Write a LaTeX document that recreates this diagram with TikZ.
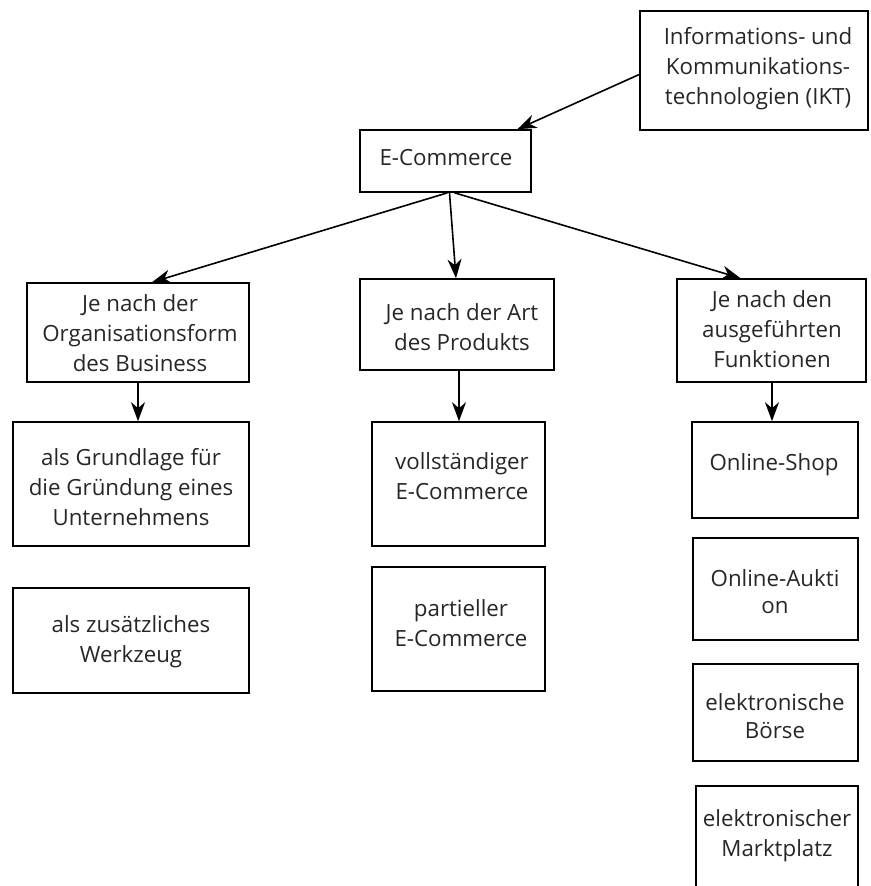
\documentclass[tikz,border=0pt]{standalone}
\usepackage{fontspec}
\setmainfont{Open Sans}
\usetikzlibrary{arrows.meta}
\tikzset{
  bx/.style={draw=black, line width=1.6pt, rectangle, inner sep=0pt},
  txt/.style={align=center, inner sep=0pt, text=black!85, font=\fontsize{22.3}{30}\selectfont},
  arr/.style={line width=1.6pt, -{Stealth[length=19pt,width=14pt,inset=6pt]}}
}
\begin{document}
\begin{tikzpicture}[x=1pt,y=-1pt]
\useasboundingbox (0,0) rectangle (870,886);
\clip (0,0) rectangle (870,886);
% boxes
\node[bx, minimum width=228pt, minimum height=119pt] (ikt) at (754,70.5) {};
\node[bx, minimum width=171pt, minimum height=62pt] (ec) at (445.5,161) {};
\node[bx, minimum width=222pt, minimum height=99pt] (b3) at (138,332.5) {};
\node[bx, minimum width=194pt, minimum height=91pt] (b4) at (457,324.5) {};
\node[bx, minimum width=189pt, minimum height=103pt] (b5) at (771.5,330.5) {};
\node[bx, minimum width=236pt, minimum height=124pt] (b6) at (131,484) {};
\node[bx, minimum width=236pt, minimum height=105pt] (b7) at (131,640.5) {};
\node[bx, minimum width=173pt, minimum height=124pt] (b8) at (458.5,484) {};
\node[bx, minimum width=173pt, minimum height=124pt] (b9) at (458.5,629) {};
\node[bx, minimum width=166pt, minimum height=96pt] (b10) at (775,470) {};
\node[bx, minimum width=165pt, minimum height=102pt] (b11) at (775.5,589) {};
\node[bx, minimum width=165pt, minimum height=97pt] (b12) at (775.5,712.5) {};
\node[bx, minimum width=162pt, minimum height=114pt] (b13) at (777,843) {};
% texts
\node[txt] (t1) at (758,69) {Informations- und\\Kommunikations-\\technologien (IKT)};
\node[txt] (t2) at (446,158) {E-Commerce};
\node[txt] (t3) at (140,333) {Je nach der\\Organisationsform\\des Business};
\node[txt] (t4) at (462,327) {Je nach der Art\\des Produkts};
\node[txt] (t5) at (772,329) {Je nach den\\ausgeführten\\Funktionen};
\node[txt] (t6) at (131,487) {als Grundlage für\\die Gründung eines\\Unternehmens};
\node[txt] (t7) at (131,642) {als zusätzliches\\Werkzeug};
\node[txt] (t8) at (462,476) {vollständiger\\E-Commerce};
\node[txt] (t9) at (461,623) {partieller\\E-Commerce};
\node[txt] (t10) at (774,465) {Online-Shop};
\node[txt, font=\fontsize{22.3}{27}\selectfont] (t11) at (775,592) {Online-Aukti\\on};
\node[txt, font=\fontsize{22.3}{28}\selectfont] (t12) at (775,716) {elektronische\\Börse};
\node[txt] (t13) at (777,836) {elektronischer\\Marktplatz};
% arrows
\draw[arr] ([yshift=-4pt]ikt.west) -- ([xshift=72pt]ec.north);
\draw[arr] ([xshift=2pt]ec.south) -- ([xshift=14pt]b3.north);
\draw[arr] ([xshift=4pt]ec.south) -- ([xshift=-1pt]b4.north);
\draw[arr] ([xshift=9pt]ec.south) -- ([xshift=-31pt]b5.north);
\draw[arr] (b3.south) -- (b3.south |- b6.north);
\draw[arr] ([xshift=2pt]b4.south) -- ([xshift=2pt]b4.south |- b8.north);
\draw[arr] ([xshift=0.5pt]b5.south) -- ([xshift=0.5pt]b5.south |- b10.north);
\end{tikzpicture}
\end{document}
